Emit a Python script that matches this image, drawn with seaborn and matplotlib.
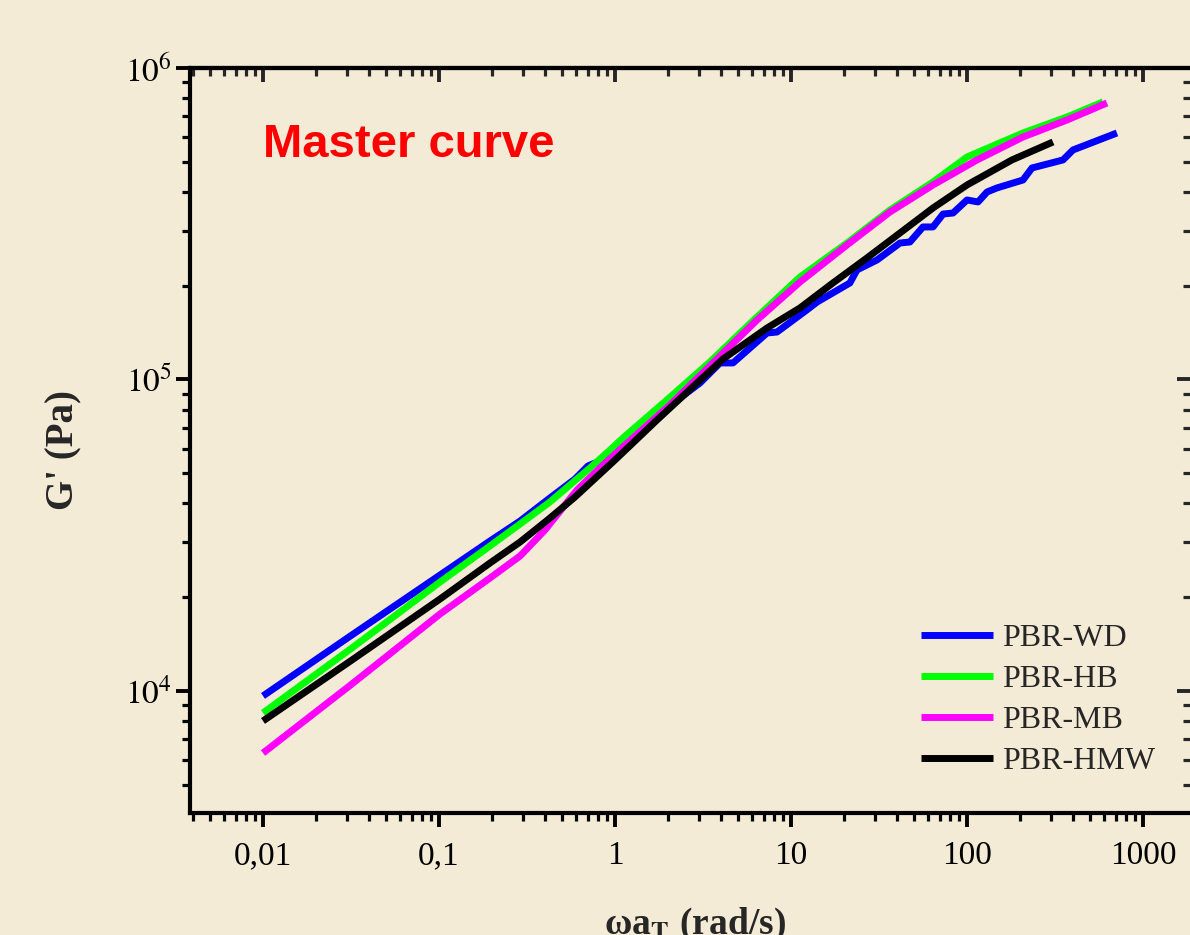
import numpy as np
import pandas as pd
import matplotlib
matplotlib.use("Agg")
import matplotlib.pyplot as plt
from matplotlib.ticker import FixedLocator, FixedFormatter, LogLocator, NullFormatter
import seaborn as sns

# Master curves: reduced frequency (rad/s) vs storage modulus G' (Pa)
wd_freq = [0.01, 0.032, 0.1014, 0.195, 0.289, 0.427, 0.593, 0.702, 0.822, 1.067, 1.80,
           3.04, 3.95, 4.68, 7.31, 8.32, 12.3, 14.1, 21.6, 23.7, 30.8, 41.6, 47.4, 56.2,
           64.1, 73.1, 83.3, 100, 115.5, 130, 148, 208, 234, 351, 400, 711]
wd_gp = [9640, 15130, 23570, 30310, 35130, 41650, 47930, 52770, 54750, 61170, 78060,
         97450, 113000, 113000, 141000, 142000, 167200, 177400, 204100, 224700, 241900,
         274200, 276300, 308800, 308800, 339700, 342300, 376900, 371500, 399900, 412000,
         436900, 477500, 506700, 545500, 618500]

hb_freq = [0.01, 0.032, 0.1014, 0.195, 0.289, 0.427, 0.608, 0.721, 0.937, 1.11, 1.97,
           3.46, 6.41, 11.25, 20.8, 36.5, 64.1, 100, 208, 370, 593]
hb_gp = [8500, 13740, 22380, 29220, 34370, 40440, 47930, 51980, 59390, 64900, 85940,
         113800, 158700, 213300, 274200, 350000, 430500, 518000, 618500, 696000, 778000]

mb_freq = [0.01, 0.032, 0.1014, 0.195, 0.289, 0.400, 0.608, 0.822, 1.11, 2.05, 3.60,
           6.41, 11.25, 20.8, 36.5, 64.1, 114, 208, 370, 624]
mb_gp = [6320, 10530, 17670, 23050, 27130, 32870, 44180, 51980, 60720, 82790, 113000,
         155200, 205600, 270300, 344900, 421100, 506700, 600300, 680800, 772000]

hmw_freq = [0.01, 0.032, 0.1014, 0.195, 0.289, 0.427, 0.593, 1.0, 1.732, 4.11, 7.31,
            11.25, 17.3, 27.0, 41.6, 64.1, 100, 180, 308]
hmw_gp = [8012, 12570, 19740, 25760, 30080, 35900, 41970, 55150, 74130, 116400, 146300,
          169700, 204100, 245500, 295300, 355300, 421100, 506700, 578700]

series_names = ["PBR-WD", "PBR-HB", "PBR-MB", "PBR-HMW"]
series_colors = ["#0000FF", "#00FF00", "#FF00FF", "#000000"]

x_ticks = [0.01, 0.1, 1, 10, 100, 1000]
x_tick_labels = ["0,01", "0,1", "1", "10", "100", "1000"]
y_ticks = [1e4, 1e5, 1e6]
y_tick_labels = [r"$10^{4}$", r"$10^{5}$", r"$10^{6}$"]

frames = []
for name, f, g in zip(series_names,
                      [wd_freq, hb_freq, mb_freq, hmw_freq],
                      [wd_gp, hb_gp, mb_gp, hmw_gp]):
    frames.append(pd.DataFrame({"freq": f, "gp": g, "sample": name}))
df = pd.concat(frames, ignore_index=True)

sns.set_style("ticks")
bg = "#F4EBD6"
plt.rcParams["font.family"] = ["Liberation Serif", "DejaVu Serif"]
plt.rcParams["mathtext.fontset"] = "stix"
plt.rcParams["lines.solid_capstyle"] = "butt"
plt.rcParams["lines.solid_joinstyle"] = "round"

fig = plt.figure(figsize=(11.9, 9.35), dpi=100, facecolor=bg)
ax = fig.add_axes([0.1597, 0.1305, 0.8412, 0.7968])
ax.set_facecolor(bg)

for name, color in zip(series_names, series_colors):
    sub = df[df["sample"] == name]
    sns.lineplot(data=sub, x="freq", y="gp", color=color, label=name,
                 linewidth=5, sort=False, estimator=None, ax=ax)

ax.set_xscale("log")
ax.set_yscale("log")
ax.set_xlim(0.00385, 1875)
ax.set_ylim(4058, 1e6)

ax.xaxis.set_major_locator(FixedLocator(x_ticks))
ax.xaxis.set_major_formatter(FixedFormatter(x_tick_labels))
ax.xaxis.set_minor_locator(LogLocator(base=10, subs=np.arange(2, 10), numticks=20))
ax.xaxis.set_minor_formatter(NullFormatter())
ax.yaxis.set_major_locator(FixedLocator(y_ticks))
ax.yaxis.set_major_formatter(FixedFormatter(y_tick_labels))
ax.yaxis.set_minor_locator(LogLocator(base=10, subs=np.arange(2, 10), numticks=20))
ax.yaxis.set_minor_formatter(NullFormatter())

for sp in ax.spines.values():
    sp.set_linewidth(3)
    sp.set_color("black")

ax.tick_params(which="both", direction="out", colors="black", labelsize=24)
ax.tick_params(which="major", length=10, width=2.8)
ax.tick_params(which="minor", length=5.5, width=2.3)
ax.tick_params(axis="x", which="major", pad=10)
ax.tick_params(axis="y", which="major", pad=3)

# inward ticks along the top and right edges
secx = ax.secondary_xaxis("top")
secx.xaxis.set_major_locator(FixedLocator(x_ticks))
secx.xaxis.set_minor_locator(LogLocator(base=10, subs=np.arange(2, 10), numticks=20))
secx.xaxis.set_minor_formatter(NullFormatter())
secx.tick_params(which="both", direction="in", labeltop=False)
secx.tick_params(which="major", length=10, width=2.8)
secx.tick_params(which="minor", length=5.5, width=2.3)
secx.spines["top"].set_linewidth(3)

secy = ax.secondary_yaxis("right")
secy.yaxis.set_major_locator(FixedLocator(y_ticks))
secy.yaxis.set_minor_locator(LogLocator(base=10, subs=np.arange(2, 10), numticks=20))
secy.yaxis.set_minor_formatter(NullFormatter())
secy.tick_params(which="both", direction="in", labelright=False)
secy.tick_params(which="major", length=10, width=2.8)
secy.tick_params(which="minor", length=5.5, width=2.3)
secy.spines["right"].set_linewidth(3)

ax.set_xlabel(r"ωa$_{\mathbf{T}}$ (rad/s)", fontsize=27, fontweight="bold")
ax.set_ylabel("G' (Pa)", fontsize=28, fontweight="bold")
ax.xaxis.set_label_coords(0.5045, -0.1248)
ax.yaxis.set_label_coords(-0.108, 0.487)

ax.text(0.073, 0.8805, "Master curve", transform=ax.transAxes, color="#FF0000",
        fontsize=34, fontweight="bold", family="Liberation Sans",
        ha="left", va="baseline")

handles, labels = ax.get_legend_handles_labels()
ax.legend(handles, labels, loc="upper left", bbox_to_anchor=(0.7303, 0.2537),
          frameon=False, fontsize=23, borderpad=0, borderaxespad=0,
          handlelength=2.25, handletextpad=0.3, labelspacing=0.36)

fig.savefig("out.png", dpi=100, facecolor=bg)
